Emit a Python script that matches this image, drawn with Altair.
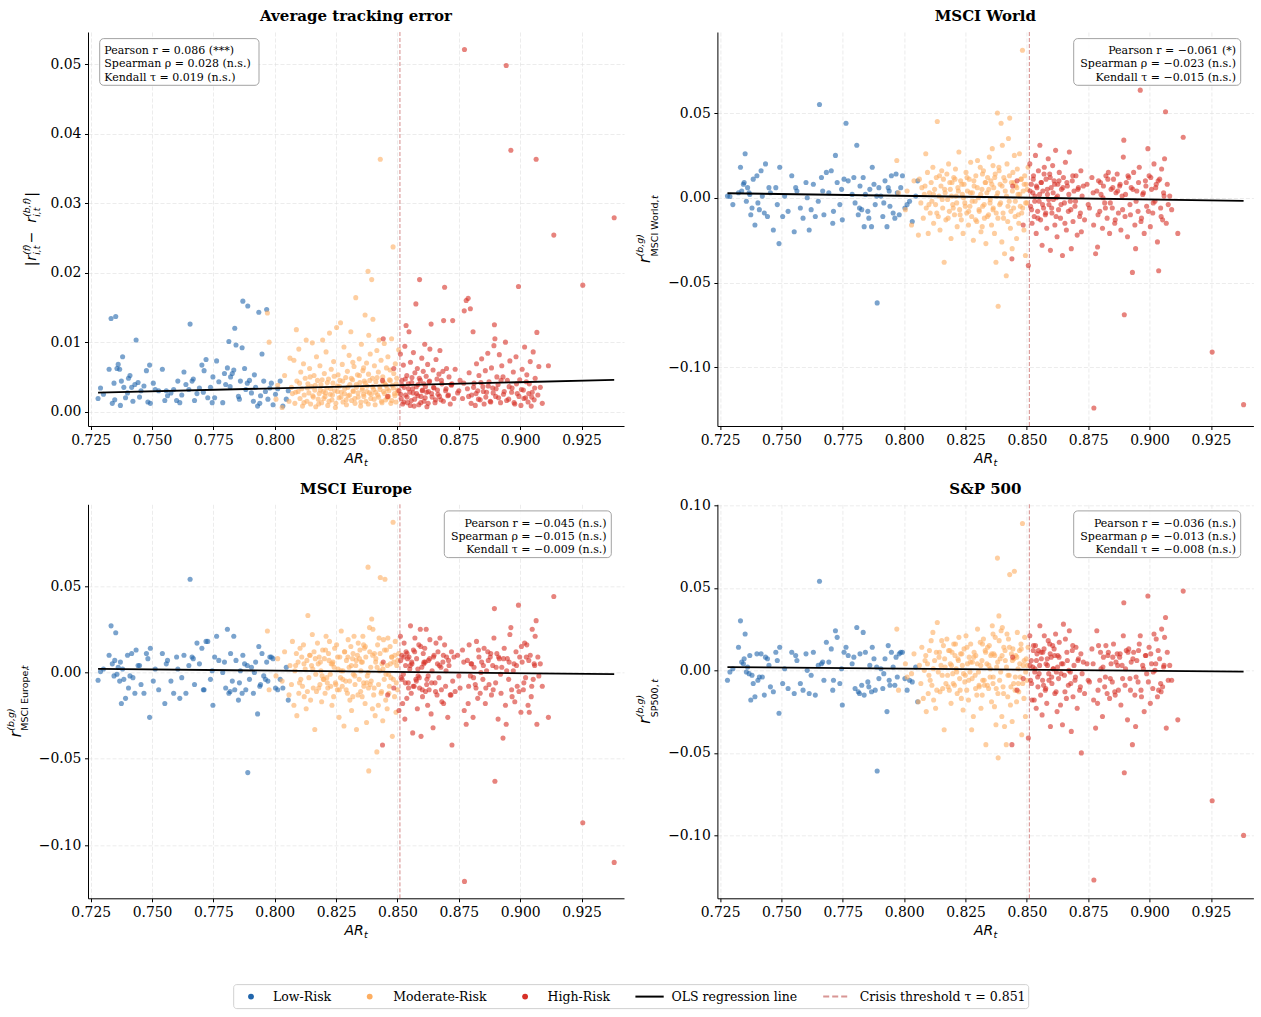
import altair as alt
import pandas as pd

# ---------------- data ----------------
CRISIS = 0.851

low_ar = [0.7280, 0.7290, 0.7325, 0.7333, 0.7352, 0.7338, 0.7348, 0.7357, 0.7362, 0.7368,
          0.7375, 0.7380, 0.7385, 0.7392, 0.7400, 0.7410, 0.7417, 0.7422, 0.7430, 0.7435,
          0.7443, 0.7455, 0.7467, 0.7477, 0.7483, 0.7490, 0.7493, 0.7513, 0.7527, 0.7542,
          0.7552, 0.7563, 0.7577, 0.7588, 0.7600, 0.7605, 0.7613, 0.7630, 0.7638, 0.7650,
          0.7655, 0.7663, 0.7673, 0.7683, 0.7693, 0.7703, 0.7712, 0.7720, 0.7727, 0.7738,
          0.7748, 0.7755, 0.7763, 0.7772, 0.7788, 0.7800, 0.7807, 0.7813, 0.7820, 0.7827,
          0.7833, 0.7837, 0.7842, 0.7852, 0.7860, 0.7867, 0.7870, 0.7877, 0.7882, 0.7890,
          0.7897, 0.7905, 0.7913, 0.7922, 0.7930, 0.7935, 0.7942, 0.7948, 0.7955, 0.7967,
          0.7972, 0.7980, 0.7993, 0.8003, 0.8022, 0.8033, 0.8047, 0.8055,
          0.7302, 0.7345, 0.7371, 0.7404, 0.7449, 0.7505, 0.7558, 0.7621, 0.7668, 0.7709,
          0.7745, 0.7795, 0.7818, 0.7856, 0.7888, 0.7917, 0.7939, 0.7962, 0.7986, 0.8012]
low_te = [0.0019, 0.0034, 0.0061, 0.0134, 0.0137, 0.0012, 0.0017, 0.0062, 0.0068, 0.0061,
          0.0044, 0.0079, 0.0035, 0.0020, 0.0027, 0.0052, 0.0035, 0.0015, 0.0039, 0.0103,
          0.0042, 0.0030, 0.0037, 0.0059, 0.0014, 0.0067, 0.0012, 0.0032, 0.0030, 0.0061,
          0.0016, 0.0023, 0.0027, 0.0032, 0.0016, 0.0044, 0.0013, 0.0057, 0.0039, 0.0032,
          0.0126, 0.0044, 0.0016, 0.0026, 0.0034, 0.0067, 0.0059, 0.0075, 0.0020, 0.0035,
          0.0050, 0.0020, 0.0073, 0.0043, 0.0013, 0.0039, 0.0063, 0.0101, 0.0050, 0.0055,
          0.0060, 0.0120, 0.0096, 0.0022, 0.0044, 0.0092, 0.0159, 0.0062, 0.0032, 0.0152,
          0.0045, 0.0027, 0.0015, 0.0035, 0.0008, 0.0143, 0.0023, 0.0083, 0.0044, 0.0147,
          0.0018, 0.0034, 0.0010, 0.0025, 0.0044, 0.0008, 0.0018, 0.0030,
          0.0025, 0.0041, 0.0009, 0.0048, 0.0021, 0.0041, 0.0030, 0.0024, 0.0047, 0.0028,
          0.0013, 0.0055, 0.0036, 0.0018, 0.0041, 0.0053, 0.0012, 0.0029, 0.0041, 0.0033]
low_world = [0.001, 0.0008, 0.003, 0.018, 0.026, 0.004, 0.009, -0.002, 0.006, 0.003,
             -0.010, -0.006, 0.011, -0.016, 0.013, -0.007, 0.016, 0.001, -0.009, 0.020,
             -0.011, 0.003, -0.019, 0.006, -0.004, -0.027, 0.018, 0.001, -0.008, 0.013,
             -0.020, 0.004, -0.006, -0.012, 0.009, 0.000, -0.019, 0.008, -0.011, -0.002,
             0.055, 0.012, -0.010, 0.015, 0.003, 0.016, -0.008, 0.025, 0.009, -0.004,
             -0.013, 0.011, 0.044, 0.010, 0.002, -0.003, 0.031, -0.010, 0.007, -0.007,
             0.012, -0.017, 0.002, -0.008, 0.005, -0.017, 0.018, 0.008, -0.004, -0.062,
             0.006, 0.001, -0.011, 0.010, -0.017, 0.006, -0.005, 0.013, -0.009, 0.014,
             0.003, -0.010, 0.013, -0.006, -0.002, -0.014, 0.001, 0.010,
             -0.004, 0.008, 0.002, -0.003, 0.006, -0.011, 0.006, -0.007, 0.004, -0.015,
             0.005, 0.012, -0.006, -0.012, 0.001, -0.003, 0.004, -0.012, 0.006, -0.004]
low_europe = [-0.0045, 0.0005, 0.010, 0.027, 0.023, 0.005, 0.007, -0.001, 0.003, -0.005,
              -0.018, 0.002, -0.004, -0.015, 0.010, -0.002, 0.011, -0.003, -0.012, 0.013,
              0.004, -0.007, -0.012, 0.011, 0.008, -0.026, 0.014, 0.002, -0.010, 0.011,
              -0.018, 0.007, -0.005, -0.012, 0.009, 0.002, -0.015, 0.010, -0.012, 0.004,
              0.054, 0.009, -0.007, 0.017, 0.005, 0.014, -0.010, 0.018, 0.018, -0.004,
              -0.019, 0.009, 0.021, 0.007, 0.000, -0.009, 0.025, -0.012, 0.011, -0.005,
              0.021, -0.010, 0.007, -0.016, 0.001, -0.012, 0.010, 0.005, -0.010, -0.058,
              -0.004, 0.003, -0.012, 0.006, -0.024, 0.015, -0.007, 0.011, -0.002, 0.006,
              -0.005, 0.009, 0.008, -0.009, -0.004, -0.009, 0.003, -0.016,
              0.002, -0.002, 0.006, -0.009, 0.004, -0.005, 0.005, -0.003, 0.008, -0.010,
              0.001, 0.006, -0.011, -0.006, 0.004, 0.000, -0.008, -0.004, 0.009, -0.010]
low_sp = [-0.006, -0.001, 0.014, 0.030, 0.022, 0.005, 0.007, -0.001, 0.002, -0.002,
          -0.018, -0.003, -0.008, -0.016, 0.010, -0.004, 0.010, -0.004, -0.015, 0.008,
          0.007, -0.010, -0.013, 0.011, 0.006, -0.026, 0.014, 0.001, -0.011, 0.011,
          -0.014, 0.006, -0.008, -0.012, 0.010, 0.000, -0.014, 0.011, -0.015, 0.003,
          0.054, 0.004, -0.006, 0.017, 0.005, 0.013, -0.006, 0.024, 0.020, -0.008,
          -0.021, 0.011, 0.014, 0.009, 0.004, -0.011, 0.026, -0.013, 0.010, -0.009,
          0.023, -0.015, 0.011, -0.007, 0.003, -0.013, 0.014, 0.007, -0.012, -0.061,
          -0.005, 0.001, -0.011, 0.007, -0.025, 0.015, -0.009, 0.011, 0.002, 0.008,
          -0.004, 0.010, 0.011, -0.005, -0.006, -0.007, 0.002, -0.019,
          0.001, 0.004, 0.009, -0.006, 0.003, -0.008, 0.009, -0.003, 0.005, -0.012,
          0.001, 0.008, -0.014, -0.010, 0.002, -0.002, -0.006, -0.009, 0.011, -0.012]

mod_ar = [0.7970, 0.7977, 0.8005, 0.8012, 0.8030, 0.8040, 0.8058, 0.8062, 0.8068, 0.8072,
          0.8078, 0.8082, 0.8088, 0.8090, 0.8095, 0.8098, 0.8103, 0.8106, 0.8110, 0.8113,
          0.8117, 0.8120, 0.8124, 0.8128, 0.8131, 0.8135, 0.8139, 0.8142, 0.8146, 0.8150,
          0.8153, 0.8157, 0.8160, 0.8163, 0.8167, 0.8170, 0.8174, 0.8177, 0.8181, 0.8184,
          0.8188, 0.8191, 0.8195, 0.8198, 0.8202, 0.8205, 0.8209, 0.8212, 0.8216, 0.8219,
          0.8223, 0.8226, 0.8230, 0.8233, 0.8237, 0.8240, 0.8244, 0.8247, 0.8252, 0.8255,
          0.8258, 0.8262, 0.8265, 0.8268, 0.8271, 0.8275, 0.8278, 0.8282, 0.8285, 0.8289,
          0.8292, 0.8296, 0.8299, 0.8303, 0.8306, 0.8310, 0.8313, 0.8317, 0.8320, 0.8323,
          0.8327, 0.8330, 0.8333, 0.8337, 0.8340, 0.8344, 0.8347, 0.8350, 0.8353, 0.8356,
          0.8359, 0.8362, 0.8365, 0.8368, 0.8371, 0.8374, 0.8377, 0.8380, 0.8382, 0.8383,
          0.8386, 0.8389, 0.8391, 0.8395, 0.8398, 0.8400, 0.8403, 0.8406, 0.8409, 0.8412,
          0.8416, 0.8419, 0.8422, 0.8425, 0.8428, 0.8430, 0.8433, 0.8437, 0.8440, 0.8443,
          0.8446, 0.8449, 0.8452, 0.8455, 0.8458, 0.8461, 0.8464, 0.8467, 0.8470, 0.8473,
          0.8476, 0.8479, 0.8482, 0.8485, 0.8488, 0.8491, 0.8494, 0.8497, 0.8500, 0.8505,
          0.8085, 0.8101, 0.8119, 0.8133, 0.8144, 0.8155, 0.8165, 0.8179, 0.8186, 0.8193,
          0.8200, 0.8207, 0.8214, 0.8221, 0.8228, 0.8235, 0.8242, 0.8249, 0.8256, 0.8263,
          0.8270, 0.8277, 0.8284, 0.8291, 0.8298, 0.8305, 0.8312, 0.8319, 0.8326, 0.8332,
          0.8339, 0.8345, 0.8351, 0.8357, 0.8363, 0.8369, 0.8375, 0.8381, 0.8387, 0.8393,
          0.8399, 0.8405, 0.8411, 0.8417, 0.8423, 0.8429, 0.8435, 0.8441, 0.8447, 0.8453,
          0.8459, 0.8465, 0.8471, 0.8477, 0.8483, 0.8489, 0.8495, 0.8501, 0.8362, 0.8318]
mod_te = [0.0142, 0.0100, 0.0018, 0.0038, 0.0006, 0.0052, 0.0015, 0.0077, 0.0035, 0.0026,
          0.0074, 0.0012, 0.0118, 0.0044, 0.0029, 0.0090, 0.0019, 0.0057, 0.0033, 0.0008,
          0.0069, 0.0024, 0.0048, 0.0103, 0.0015, 0.0040, 0.0027, 0.0062, 0.0011, 0.0036,
          0.0099, 0.0021, 0.0052, 0.0031, 0.0007, 0.0079, 0.0045, 0.0018, 0.0026, 0.0066,
          0.0039, 0.0013, 0.0103, 0.0029, 0.0055, 0.0022, 0.0086, 0.0034, 0.0009, 0.0047,
          0.0113, 0.0025, 0.0061, 0.0017, 0.0041, 0.0072, 0.0030, 0.0006, 0.0121, 0.0037,
          0.0053, 0.0020, 0.0045, 0.0128, 0.0028, 0.0068, 0.0014, 0.0093, 0.0033, 0.0049,
          0.0010, 0.0058, 0.0023, 0.0081, 0.0039, 0.0115, 0.0016, 0.0046, 0.0029, 0.0065,
          0.0012, 0.0164, 0.0035, 0.0053, 0.0021, 0.0076, 0.0042, 0.0008, 0.0097, 0.0031,
          0.0059, 0.0025, 0.0044, 0.0139, 0.0015, 0.0070, 0.0037, 0.0202, 0.0054, 0.0110,
          0.0027, 0.0083, 0.0019, 0.0190, 0.0048, 0.0133, 0.0032, 0.0066, 0.0010, 0.0043,
          0.0088, 0.0024, 0.0057, 0.0103, 0.0036, 0.0363, 0.0074, 0.0013, 0.0050, 0.0029,
          0.0098, 0.0040, 0.0017, 0.0063, 0.0033, 0.0079, 0.0022, 0.0046, 0.0060, 0.0012,
          0.0105, 0.0038, 0.0237, 0.0055, 0.0026, 0.0069, 0.0014, 0.0048, 0.0031, 0.0089,
          0.0028, 0.0041, 0.0013, 0.0034, 0.0050, 0.0023, 0.0038, 0.0011, 0.0031, 0.0046,
          0.0019, 0.0027, 0.0042, 0.0015, 0.0033, 0.0024, 0.0051, 0.0012, 0.0029, 0.0037,
          0.0021, 0.0044, 0.0026, 0.0017, 0.0035, 0.0024, 0.0048, 0.0030, 0.0019, 0.0039,
          0.0027, 0.0052, 0.0014, 0.0034, 0.0022, 0.0041, 0.0029, 0.0011, 0.0045, 0.0025,
          0.0036, 0.0018, 0.0028, 0.0049, 0.0021, 0.0032, 0.0015, 0.0043, 0.0026, 0.0038,
          0.0020, 0.0030, 0.0045, 0.0016, 0.0034, 0.0023, 0.0040, 0.0027, 0.0063, 0.0071]
mod_world = [0.022, 0.003, -0.007, 0.004, -0.016, 0.010, -0.022, 0.011, -0.003, 0.006,
             -0.012, 0.002, 0.026, -0.006, 0.015, -0.021, 0.003, -0.009, 0.009, -0.002,
             0.018, -0.015, 0.005, -0.004, 0.012, 0.045, -0.011, 0.001, -0.019, 0.007,
             0.016, -0.006, 0.011, -0.038, 0.003, -0.013, 0.014, -0.001, 0.020, -0.008,
             0.005, -0.024, 0.009, -0.004, 0.012, -0.010, 0.017, 0.001, -0.017, 0.006,
             0.027, -0.007, 0.010, -0.013, 0.002, -0.021, 0.008, -0.003, 0.015, -0.009,
             0.004, -0.016, 0.011, -0.005, 0.021, -0.011, 0.003, -0.025, 0.007, -0.002,
             0.013, -0.014, 0.022, 0.000, -0.008, 0.018, -0.020, 0.005, -0.005, 0.016,
             -0.012, 0.009, -0.027, 0.003, 0.012, -0.010, 0.024, -0.003, 0.010, -0.016,
             0.029, -0.007, 0.006, -0.021, 0.014, -0.038, 0.001, 0.050, -0.012, -0.064,
             0.018, -0.004, 0.008, 0.044, -0.026, 0.031, -0.009, 0.012, -0.033, 0.004,
             -0.046, 0.020, -0.014, 0.035, -0.002, 0.047, -0.018, 0.009, -0.030, 0.015,
             -0.006, 0.025, -0.011, 0.007, -0.024, 0.017, 0.002, -0.015, 0.026, -0.005,
             0.011, -0.009, 0.087, 0.004, -0.019, 0.013, -0.034, 0.008, -0.003, 0.018,
             0.007, -0.004, 0.002, -0.009, 0.013, -0.001, 0.005, -0.012, 0.009, 0.001,
             -0.006, 0.011, -0.003, 0.004, -0.010, 0.008, 0.000, -0.005, 0.012, -0.008,
             0.003, -0.002, 0.010, -0.013, 0.006, -0.007, 0.002, 0.014, -0.004, 0.009,
             -0.011, 0.005, -0.001, 0.008, -0.006, 0.012, -0.009, 0.003, 0.016, -0.003,
             0.007, -0.012, 0.010, 0.001, -0.005, 0.013, -0.008, 0.004, 0.009, -0.002,
             0.006, -0.010, 0.002, 0.011, -0.006, 0.008, -0.003, 0.005, 0.019, -0.017]
mod_europe = [0.024, -0.010, -0.002, 0.008, -0.005, 0.012, -0.013, 0.004, -0.007, 0.018,
              -0.019, 0.001, 0.011, -0.025, 0.006, -0.012, 0.014, -0.004, 0.009, -0.008,
              0.016, -0.014, 0.002, -0.021, 0.007, 0.033, -0.003, 0.010, -0.016, 0.004,
              0.022, -0.009, 0.012, -0.033, -0.001, -0.011, 0.017, 0.005, 0.009, -0.007,
              0.001, -0.017, 0.013, -0.004, 0.008, -0.012, 0.021, -0.003, -0.009, 0.011,
              0.018, -0.001, 0.005, -0.019, 0.006, -0.014, 0.014, -0.006, 0.016, -0.010,
              0.002, -0.026, 0.009, -0.003, 0.024, -0.008, 0.001, -0.031, 0.012, -0.005,
              0.007, -0.012, 0.019, 0.003, -0.016, 0.015, -0.022, 0.008, -0.001, 0.021,
              -0.007, 0.004, -0.033, 0.010, 0.017, -0.004, 0.013, -0.011, 0.006, -0.014,
              0.021, -0.006, 0.014, -0.018, 0.009, -0.029, -0.002, 0.061, -0.009, -0.057,
              0.026, -0.007, 0.003, 0.031, -0.021, 0.025, -0.013, 0.011, -0.025, 0.008,
              -0.046, 0.016, -0.019, 0.020, 0.001, 0.055, -0.012, 0.005, -0.028, 0.019,
              -0.004, 0.054, -0.016, 0.013, -0.021, 0.020, -0.001, -0.008, 0.015, -0.003,
              0.009, -0.037, 0.087, 0.006, -0.014, 0.018, -0.023, 0.004, -0.010, 0.011,
              0.004, -0.006, 0.005, -0.011, 0.010, 0.002, 0.008, -0.009, 0.006, -0.002,
              -0.004, 0.013, -0.006, 0.007, -0.008, 0.005, 0.003, -0.007, 0.009, -0.010,
              0.001, -0.004, 0.012, -0.010, 0.009, -0.005, 0.004, 0.011, -0.002, 0.007,
              -0.013, 0.008, 0.001, 0.006, -0.008, 0.015, -0.006, 0.000, 0.012, -0.005,
              0.010, -0.009, 0.006, 0.003, -0.007, 0.011, -0.011, 0.002, 0.013, -0.001,
              0.004, -0.012, 0.005, 0.009, -0.004, 0.010, -0.006, 0.007, 0.016, -0.014]
mod_sp = [0.025, -0.012, 0.004, -0.004, -0.002, 0.010, -0.019, 0.003, -0.008, 0.014,
          -0.017, 0.000, 0.009, -0.025, 0.004, -0.014, 0.012, -0.006, 0.018, -0.009,
          0.023, -0.018, 0.006, -0.023, 0.011, 0.029, -0.001, 0.008, -0.013, 0.003,
          0.018, -0.011, 0.015, -0.036, 0.002, -0.008, 0.019, -0.003, 0.012, -0.012,
          0.004, -0.020, 0.011, -0.002, 0.016, -0.009, 0.016, 0.001, -0.014, 0.007,
          0.020, -0.005, 0.010, -0.017, 0.003, -0.024, 0.013, -0.007, 0.021, -0.012,
          0.004, -0.018, 0.008, -0.001, 0.016, -0.036, 0.005, -0.028, 0.011, -0.003,
          0.009, -0.015, 0.025, -0.001, -0.010, 0.017, -0.023, 0.006, -0.006, 0.019,
          -0.009, 0.012, -0.045, 0.004, 0.014, -0.011, 0.015, -0.004, 0.009, -0.019,
          0.027, -0.008, 0.010, -0.022, 0.020, -0.033, 0.002, 0.068, -0.014, -0.053,
          0.033, -0.006, 0.007, 0.024, -0.028, 0.026, -0.010, 0.014, -0.034, 0.006,
          -0.045, 0.022, -0.016, 0.019, -0.003, 0.058, -0.021, 0.010, -0.031, 0.013,
          -0.008, 0.060, -0.012, 0.009, -0.019, 0.023, 0.001, -0.013, 0.012, -0.004,
          0.016, -0.039, 0.089, 0.003, -0.017, 0.020, -0.028, 0.007, -0.006, 0.014,
          0.006, -0.003, 0.001, -0.012, 0.011, -0.003, 0.007, -0.010, 0.012, 0.003,
          -0.008, 0.009, -0.001, 0.006, -0.012, 0.010, -0.002, -0.003, 0.014, -0.006,
          0.005, -0.005, 0.008, -0.011, 0.004, -0.009, 0.003, 0.016, -0.006, 0.011,
          -0.009, 0.003, 0.001, 0.010, -0.004, 0.009, -0.011, 0.005, 0.018, -0.001,
          0.009, -0.014, 0.012, 0.002, -0.003, 0.014, -0.010, 0.006, 0.007, -0.004,
          0.008, -0.008, 0.004, 0.013, -0.008, 0.006, -0.001, 0.003, 0.022, -0.015]

high_ar = [0.8439, 0.8442, 0.8460, 0.8485, 0.8506, 0.8512, 0.8515, 0.8518, 0.8521, 0.8524,
           0.8527, 0.8530, 0.8533, 0.8535, 0.8538, 0.8541, 0.8544, 0.8547, 0.8550, 0.8553,
           0.8556, 0.8559, 0.8562, 0.8565, 0.8568, 0.8571, 0.8575, 0.8578, 0.8581, 0.8584,
           0.8587, 0.8590, 0.8593, 0.8596, 0.8599, 0.8602, 0.8605, 0.8608, 0.8611, 0.8614,
           0.8617, 0.8620, 0.8623, 0.8626, 0.8629, 0.8632, 0.8637, 0.8641, 0.8645, 0.8649,
           0.8653, 0.8657, 0.8661, 0.8665, 0.8669, 0.8673, 0.8677, 0.8681, 0.8685, 0.8688,
           0.8692, 0.8696, 0.8700, 0.8705, 0.8710, 0.8715, 0.8720, 0.8722, 0.8725, 0.8735,
           0.8745, 0.8755, 0.8765, 0.8772, 0.8773, 0.8780, 0.8785, 0.8788, 0.8792, 0.8797,
           0.8802, 0.8808, 0.8812, 0.8817, 0.8822, 0.8827, 0.8832, 0.8837, 0.8843, 0.8848,
           0.8853, 0.8858, 0.8863, 0.8868, 0.8873, 0.8878, 0.8883, 0.8888, 0.8893, 0.8895,
           0.8897, 0.8900, 0.8905, 0.8910, 0.8915, 0.8920, 0.8925, 0.8930, 0.8935, 0.8940,
           0.8943, 0.8948, 0.8953, 0.8958, 0.8962, 0.8967, 0.8972, 0.8978, 0.8983, 0.8988,
           0.8993, 0.8998, 0.9003, 0.9008, 0.9013, 0.9018, 0.9022, 0.9027, 0.9032, 0.9037,
           0.9041, 0.9045, 0.9049, 0.9053, 0.9057, 0.9061, 0.9065, 0.9068, 0.9072, 0.9076,
           0.9082, 0.9090, 0.9115, 0.9137, 0.9255, 0.9383,
           0.8513, 0.8519, 0.8526, 0.8532, 0.8539, 0.8545, 0.8552, 0.8558, 0.8564, 0.8570,
           0.8577, 0.8583, 0.8589, 0.8595, 0.8601, 0.8607, 0.8613, 0.8619, 0.8625, 0.8631,
           0.8639, 0.8647, 0.8655, 0.8663, 0.8671, 0.8679, 0.8687, 0.8698, 0.8708, 0.8718,
           0.8730, 0.8750, 0.8770, 0.8790, 0.8800, 0.8810, 0.8820, 0.8830, 0.8840, 0.8850,
           0.8860, 0.8870, 0.8880, 0.8890, 0.8902, 0.8912, 0.8922, 0.8932, 0.8945, 0.8955,
           0.8965, 0.8975, 0.8985, 0.8995, 0.9005, 0.9015, 0.9025, 0.9035, 0.9047, 0.9059]
high_te = [0.0045, 0.0105, 0.0022, 0.0062, 0.0030, 0.0083, 0.0019, 0.0045, 0.0011, 0.0067,
           0.0035, 0.0094, 0.0024, 0.0124, 0.0052, 0.0013, 0.0040, 0.0115, 0.0028, 0.0071,
           0.0016, 0.0049, 0.0033, 0.0085, 0.0008, 0.0056, 0.0155, 0.0026, 0.0062, 0.0039,
           0.0010, 0.0190, 0.0045, 0.0022, 0.0077, 0.0031, 0.0058, 0.0015, 0.0097, 0.0036,
           0.0051, 0.0007, 0.0068, 0.0029, 0.0043, 0.0090, 0.0126, 0.0021, 0.0060, 0.0034,
           0.0013, 0.0075, 0.0047, 0.0025, 0.0054, 0.0088, 0.0017, 0.0040, 0.0058, 0.0131,
           0.0179, 0.0030, 0.0062, 0.0023, 0.0050, 0.0011, 0.0038, 0.0040, 0.0131, 0.0061,
           0.0027, 0.0045, 0.0019, 0.0145, 0.0521, 0.0160, 0.0033, 0.0163, 0.0056, 0.0148,
           0.0024, 0.0115, 0.0041, 0.0009, 0.0069, 0.0030, 0.0052, 0.0017, 0.0076, 0.0036,
           0.0011, 0.0059, 0.0028, 0.0084, 0.0043, 0.0015, 0.0063, 0.0034, 0.0095, 0.0125,
           0.0105, 0.0022, 0.0050, 0.0039, 0.0082, 0.0013, 0.0066, 0.0050, 0.0029, 0.0100,
           0.0498, 0.0045, 0.0018, 0.0073, 0.0376, 0.0034, 0.0057, 0.0011, 0.0079, 0.0026,
           0.0180, 0.0046, 0.0009, 0.0061, 0.0031, 0.0093, 0.0020, 0.0053, 0.0014, 0.0040,
           0.0072, 0.0008, 0.0028, 0.0086, 0.0017, 0.0048, 0.0363, 0.0114, 0.0024, 0.0065,
           0.0035, 0.0012, 0.0066, 0.0254, 0.0182, 0.0279,
           0.0025, 0.0038, 0.0014, 0.0047, 0.0021, 0.0033, 0.0009, 0.0042, 0.0027, 0.0018,
           0.0036, 0.0023, 0.0048, 0.0013, 0.0030, 0.0040, 0.0020, 0.0028, 0.0012, 0.0044,
           0.0026, 0.0035, 0.0017, 0.0031, 0.0022, 0.0045, 0.0015, 0.0033, 0.0024, 0.0039,
           0.0019, 0.0030, 0.0041, 0.0022, 0.0012, 0.0035, 0.0026, 0.0018, 0.0042, 0.0029,
           0.0021, 0.0037, 0.0014, 0.0027, 0.0033, 0.0020, 0.0045, 0.0025, 0.0016, 0.0036,
           0.0028, 0.0013, 0.0040, 0.0022, 0.0032, 0.0019, 0.0043, 0.0026, 0.0021, 0.0034]
high_world = [-0.036, 0.007, 0.010, -0.016, -0.040, 0.020, -0.005, 0.008, -0.015, 0.003,
              0.013, -0.011, 0.001, 0.025, -0.021, 0.006, -0.008, 0.016, -0.002, 0.031,
              -0.013, 0.009, -0.028, 0.004, -0.006, 0.018, -0.010, 0.011, -0.018, 0.002,
              0.023, -0.004, 0.014, -0.031, 0.006, -0.009, 0.019, -0.001, 0.010, -0.016,
              0.028, 0.000, -0.023, 0.008, -0.007, 0.015, -0.012, 0.005, -0.034, 0.012,
              -0.003, 0.021, -0.019, 0.007, -0.008, 0.027, -0.002, -0.030, 0.010, -0.014,
              0.004, -0.005, 0.013, -0.022, 0.006, -0.011, 0.016, -0.020, 0.001, -0.013,
              0.008, -0.006, 0.012, -0.016, -0.124, -0.033, 0.004, -0.029, 0.010, -0.008,
              0.002, -0.018, 0.007, -0.003, 0.013, -0.012, 0.015, -0.021, 0.005, -0.006,
              0.011, -0.015, 0.003, 0.014, -0.009, 0.007, -0.019, 0.001, 0.024, 0.034,
              -0.069, -0.011, 0.009, -0.023, 0.012, -0.004, 0.006, -0.044, 0.015, -0.016,
              -0.030, 0.004, -0.008, 0.018, 0.0635, -0.012, 0.002, -0.021, 0.010, -0.005,
              0.029, 0.013, -0.017, 0.005, -0.009, 0.020, -0.002, 0.008, -0.026, -0.043,
              0.011, -0.006, 0.017, -0.013, 0.003, 0.023, 0.0508, -0.015, 0.008, -0.004,
              0.001, -0.007, -0.021, 0.0357, -0.091, -0.122,
              0.004, -0.007, 0.011, -0.002, 0.007, -0.012, 0.002, 0.009, -0.004, 0.014,
              -0.009, 0.005, -0.001, 0.012, -0.006, 0.003, 0.008, -0.011, 0.001, 0.010,
              -0.004, 0.006, -0.015, 0.009, 0.002, -0.007, 0.013, -0.002, 0.005, -0.009,
              0.007, -0.004, 0.003, -0.010, 0.009, 0.000, -0.006, 0.011, -0.003, 0.006,
              -0.013, 0.004, 0.008, -0.007, 0.002, 0.013, -0.010, 0.005, -0.002, 0.009,
              -0.014, 0.003, 0.007, -0.008, 0.012, -0.003, 0.006, 0.010, -0.011, 0.001]
high_europe = [-0.042, 0.006, -0.013, -0.009, -0.022, 0.021, -0.003, 0.010, -0.018, -0.001,
               0.017, -0.027, 0.004, 0.012, -0.015, 0.008, -0.006, 0.009, 0.002, 0.027,
               -0.012, 0.005, -0.035, 0.013, -0.008, 0.020, -0.004, 0.008, -0.021, -0.002,
               0.016, -0.009, 0.025, -0.037, 0.003, -0.014, 0.011, 0.006, 0.014, -0.011,
               0.025, -0.004, -0.019, 0.007, -0.010, 0.019, -0.024, 0.001, -0.032, 0.010,
               -0.006, 0.017, -0.013, 0.012, -0.003, 0.020, 0.003, -0.017, 0.006, -0.018,
               0.016, -0.008, 0.009, -0.026, 0.004, -0.013, 0.012, -0.042, -0.005, -0.011,
               0.010, -0.009, 0.013, -0.022, -0.121, -0.030, 0.007, -0.018, 0.016, -0.002,
               0.005, -0.026, 0.003, -0.007, 0.018, -0.015, 0.009, -0.012, 0.006, -0.004,
               0.014, -0.018, 0.001, 0.012, -0.007, 0.009, -0.013, 0.004, 0.020, 0.037,
               -0.063, -0.006, 0.011, -0.027, 0.008, -0.001, 0.003, -0.038, 0.014, -0.019,
               -0.030, 0.008, -0.004, 0.022, 0.026, -0.014, 0.001, -0.017, 0.012, -0.008,
               0.039, 0.009, -0.023, 0.006, -0.010, 0.017, -0.003, 0.016, -0.019, -0.023,
               0.010, -0.014, 0.025, -0.004, 0.005, 0.021, 0.030, -0.030, 0.009, -0.002,
               0.005, -0.008, -0.026, 0.044, -0.087, -0.110,
               0.007, -0.004, 0.009, -0.006, 0.011, -0.009, 0.004, 0.006, -0.008, 0.012,
               -0.005, 0.002, -0.003, 0.015, -0.010, 0.005, 0.006, -0.007, -0.002, 0.008,
               -0.006, 0.009, -0.011, 0.005, 0.004, -0.010, 0.010, 0.001, 0.007, -0.013,
               0.009, -0.002, 0.006, -0.008, 0.005, -0.003, -0.009, 0.013, 0.000, 0.004,
               -0.009, 0.007, 0.011, -0.010, 0.003, 0.009, -0.012, 0.008, 0.001, 0.006,
               -0.010, 0.005, 0.004, -0.011, 0.015, -0.006, 0.009, 0.007, -0.008, 0.004]
high_sp = [-0.045, 0.008, -0.012, -0.005, -0.041, 0.021, -0.006, 0.006, -0.018, 0.002,
           0.015, -0.018, 0.001, 0.015, -0.023, 0.010, -0.004, 0.012, -0.002, 0.027,
           -0.015, 0.007, -0.027, 0.011, -0.009, 0.021, -0.012, 0.004, -0.020, 0.003,
           0.018, -0.006, 0.016, -0.034, 0.008, -0.008, 0.015, 0.001, 0.013, -0.014,
           0.022, -0.001, -0.025, 0.009, -0.005, 0.017, -0.021, 0.004, -0.033, 0.028,
           -0.003, 0.019, -0.017, 0.006, -0.009, 0.024, -0.001, -0.037, 0.012, -0.016,
           0.003, -0.006, 0.014, -0.023, 0.007, -0.012, 0.010, -0.050, -0.002, -0.014,
           0.004, -0.007, 0.013, -0.018, -0.127, -0.035, 0.024, -0.020, 0.015, -0.006,
           0.001, -0.028, 0.008, -0.010, 0.015, -0.014, 0.011, -0.017, 0.004, -0.007,
           0.016, -0.013, 0.005, 0.010, -0.012, 0.008, -0.021, 0.003, 0.021, 0.041,
           -0.062, -0.009, 0.012, -0.030, 0.013, -0.005, 0.005, -0.045, 0.011, -0.015,
           -0.034, 0.006, -0.007, 0.016, 0.021, -0.016, 0.003, -0.025, 0.009, -0.002,
           0.045, 0.014, -0.020, 0.004, -0.011, 0.022, 0.000, 0.019, -0.016, -0.012,
           0.007, -0.008, 0.025, -0.010, 0.002, 0.020, 0.032, -0.035, 0.011, -0.006,
           0.003, -0.006, -0.030, 0.048, -0.079, -0.100,
           0.003, -0.008, 0.012, -0.001, 0.006, -0.010, 0.003, 0.011, -0.006, 0.013,
           -0.011, 0.007, -0.002, 0.010, -0.004, 0.001, 0.009, -0.013, 0.002, 0.008,
           -0.002, 0.004, -0.013, 0.011, 0.000, -0.008, 0.015, -0.004, 0.006, -0.010,
           0.005, -0.006, 0.004, -0.012, 0.011, 0.002, -0.004, 0.009, -0.005, 0.008,
           -0.015, 0.003, 0.010, -0.005, 0.001, 0.011, -0.012, 0.007, -0.004, 0.012,
           -0.012, 0.001, 0.009, -0.007, 0.010, -0.001, 0.004, 0.012, -0.013, 0.003]

# OLS regression line end points (value at min / max AR)
ols_x = [0.7280, 0.9383]
ols_te = [0.00274, 0.00457]
ols_world = [0.0027, -0.0018]
ols_europe = [0.0021, -0.0010]
ols_sp = [0.0020, -0.0008]

risk_labels = ["Low-Risk", "Moderate-Risk", "High-Risk"]
risk_colors = ["#2166ac", "#fdae61", "#d73027"]

x_ticks = [0.725, 0.75, 0.775, 0.8, 0.825, 0.85, 0.875, 0.9, 0.925]

stats_te = ["Pearson r = 0.086 (***)", "Spearman ρ = 0.028 (n.s.)", "Kendall τ = 0.019 (n.s.)"]
stats_world = ["Pearson r = −0.061 (*)", "Spearman ρ = −0.023 (n.s.)", "Kendall τ = −0.015 (n.s.)"]
stats_europe = ["Pearson r = −0.045 (n.s.)", "Spearman ρ = −0.015 (n.s.)", "Kendall τ = −0.009 (n.s.)"]
stats_sp = ["Pearson r = −0.036 (n.s.)", "Spearman ρ = −0.013 (n.s.)", "Kendall τ = −0.008 (n.s.)"]

# ---------------- layout / style ----------------
SERIF = "DejaVu Serif"
SANS = "DejaVu Sans"
W, H = 536, 394
X_DOMAIN = [0.7239, 0.9423]
THRESH_COLOR = "#c0504d"

dummy = pd.DataFrame({"d": [0]})


def txt(text, x, y, size, align="left", baseline="alphabetic", font=SERIF,
        weight="normal", style="normal", angle=0):
    kw = dict(text=text, align=align, baseline=baseline, font=font, fontSize=size,
              fontWeight=weight, fontStyle=style, color="#000000")
    if angle:
        kw["angle"] = angle
    return alt.Chart(dummy).mark_text(**kw).encode(x=alt.value(x), y=alt.value(y))


def box(x1, x2, y1, y2, stroke="#999999", radius=4):
    return alt.Chart(dummy).mark_rect(
        cornerRadius=radius, fill="white", fillOpacity=0.85, stroke=stroke, strokeWidth=0.9
    ).encode(x=alt.value(x1), x2=alt.value(x2), y=alt.value(y1), y2=alt.value(y2))


def rotated_label(segments, x_base, y_center, main=14, small=9.2, sup_dx=-6.6, sub_dx=3.6):
    """segments: ('m', text, italic, width) or ('s', sup, [(sub_text, italic, width)...], width)"""
    total = sum(s[-1] for s in segments)
    y = y_center + total / 2
    layers = []
    for seg in segments:
        if seg[0] == "m":
            _, t, it, w = seg
            layers.append(txt(t, x_base, y, main, font=SANS,
                              style="italic" if it else "normal", angle=270))
        else:
            _, sup, subs, w = seg
            layers.append(txt(sup, x_base + sup_dx, y, small, font=SANS, style="italic", angle=270))
            yy = y
            for st, it, sw in subs:
                layers.append(txt(st, x_base + sub_dx, yy, small, font=SANS,
                                  style="italic" if it else "normal", angle=270))
                yy -= sw
        y -= seg[-1]
    return layers


def build_df(key_low, key_mod, key_high):
    frames = []
    for rank, (lab, ar, vals) in enumerate([
        ("Low-Risk", low_ar, key_low), ("Moderate-Risk", mod_ar, key_mod),
        ("High-Risk", high_ar, key_high)]):
        frames.append(pd.DataFrame({"ar": ar, "val": vals, "risk": lab, "rank": rank}))
    return pd.concat(frames, ignore_index=True)


def panel(df, ydomain, yticks, title, ols_y, stats, left_stats, label_layers, anchor=False):
    xsc = alt.Scale(domain=X_DOMAIN, nice=False, zero=False)
    ysc = alt.Scale(domain=ydomain, nice=False, zero=False)
    xaxis = alt.Axis(values=x_ticks, format=".3f", title=None, labelFlush=False,
                     labelOverlap=False, grid=True)
    yaxis = alt.Axis(values=yticks, title=None, labelFlush=False, labelOverlap=False, grid=True,
                     labelExpr="replace(format(datum.value, '.2f'), '-', '\u2212')")
    pts = alt.Chart(df).mark_circle(size=26, opacity=0.6).encode(
        x=alt.X("ar:Q", scale=xsc, axis=xaxis),
        y=alt.Y("val:Q", scale=ysc, axis=yaxis),
        color=alt.Color("risk:N", scale=alt.Scale(domain=risk_labels, range=risk_colors), legend=None),
        order=alt.Order("rank:Q"),
    )
    thr = alt.Chart(pd.DataFrame({"ar": [CRISIS]})).mark_rule(
        color=THRESH_COLOR, strokeDash=[4, 2], strokeWidth=0.9, opacity=0.75
    ).encode(x="ar:Q")
    ols = alt.Chart(pd.DataFrame({"ar": ols_x, "val": ols_y})).mark_line(
        color="black", strokeWidth=1.8
    ).encode(x="ar:Q", y="val:Q")

    layers = [pts, thr, ols]
    if left_stats:
        layers.append(box(11.7, 171, 6.6, 53.3))
        for i, s in enumerate(stats):
            layers.append(txt(s, 16.3, 19.3 + 13.1 * i, 11, baseline="middle"))
    else:
        layers.append(box(356.3, 523.3, 6.6, 53.3))
        for i, s in enumerate(stats):
            layers.append(txt(s, 518.6, 19.3 + 13.1 * i, 11, align="right", baseline="middle"))
    layers.append(txt(title, W / 2, -15.7, 15, align="center", baseline="middle", weight="bold"))
    # x axis title AR_t
    layers.append(txt("AR", 256.5, 431.0, 14, font=SANS, style="italic"))
    layers.append(txt("t", 276.0, 434.0, 9.5, font=SANS, style="italic"))
    layers += label_layers
    if anchor:
        layers.append(alt.Chart(dummy).mark_rect(opacity=0).encode(
            x=alt.value(-87.3), x2=alt.value(-87.3), y=alt.value(-31.7), y2=alt.value(-31.7)))
    return alt.layer(*layers).properties(width=W, height=H)


te_label = rotated_label([
    ("m", "|", False, 5.4),
    ("m", "r", True, 6.0),
    ("s", "(f)", [("i,t", True, 10)], 11.5),
    ("m", " \u2212 ", False, 20.5),
    ("m", "r", True, 6.0),
    ("s", "(b,f)", [("i,t", True, 10)], 20.0),
    ("m", "|", False, 5.0),
], -51.7, H / 2)


def ret_label(name):
    sub_w = {"MSCI World,": 56.0, "MSCI Europe,": 60.0, "SP500,": 33.0}[name]
    return rotated_label([
        ("m", "r", True, 6.5),
        ("s", "(b,g)", [(name, False, sub_w + 1.5), ("t", True, 3.9)], sub_w + 5.4),
    ], -67.3, H / 2, main=15, small=9.5, sup_dx=-6.8, sub_dx=7.4)


p1 = panel(build_df(low_te, mod_te, high_te), [-0.00206, 0.05461],
           [0.0, 0.01, 0.02, 0.03, 0.04, 0.05], "Average tracking error", ols_te,
           stats_te, True, te_label, anchor=True)
p2 = panel(build_df(low_world, mod_world, high_world), [-0.1346, 0.0978],
           [-0.10, -0.05, 0.0, 0.05], "MSCI World", ols_world, stats_world, False,
           ret_label("MSCI World,"))
p3 = panel(build_df(low_europe, mod_europe, high_europe), [-0.1308, 0.0974],
           [-0.10, -0.05, 0.0, 0.05], "MSCI Europe", ols_europe, stats_europe, False,
           ret_label("MSCI Europe,"))
p4 = panel(build_df(low_sp, mod_sp, high_sp), [-0.1381, 0.1006],
           [-0.10, -0.05, 0.0, 0.05, 0.10], "S&P 500", ols_sp, stats_sp, False,
           ret_label("SP500,"))

# ---------------- legend (drawn in a cell of the grid; marks extend past its width) ----------------
LY = 20.0
leg_layers = [box(145.7, 940.7, 8.0, 32.0, stroke="#cccccc", radius=3)]
for lab, col, dx, tx in zip(risk_labels, risk_colors, [163.0, 281.7, 437.1], [185.0, 305.3, 459.6]):
    leg_layers.append(alt.Chart(dummy).mark_circle(size=34, opacity=1, color=col).encode(
        x=alt.value(dx), y=alt.value(LY)))
    leg_layers.append(txt(lab, tx, LY, 12.5, baseline="middle"))
leg_layers.append(alt.Chart(dummy).mark_rule(color="black", strokeWidth=2).encode(
    x=alt.value(547.4), x2=alt.value(575.7), y=alt.value(LY)))
leg_layers.append(txt("OLS regression line", 583.5, LY, 12.5, baseline="middle"))
leg_layers.append(alt.Chart(dummy).mark_rule(color=THRESH_COLOR, strokeWidth=2, opacity=0.6,
                                             strokeDash=[6, 3]).encode(
    x=alt.value(735.2), x2=alt.value(759.3), y=alt.value(LY)))
leg_layers.append(txt("Crisis threshold τ = 0.851", 771.7, LY, 12.5, baseline="middle"))
legend = alt.layer(*leg_layers).properties(width=W, height=40)

chart = alt.concat(
    p1, p2, p3, p4, legend, columns=2, bounds="flush",
    spacing={"row": 78.3, "column": 93.4},
).properties(
    padding=0, background="white"
).configure_view(stroke=None).configure_axis(
    domainColor="#000000", domainWidth=1, tickColor="#000000", tickSize=3.5, tickWidth=1,
    labelFont=SERIF, labelFontSize=13.9, labelColor="#000000", labelPadding=3.6,
    gridColor="#dddddd", gridDash=[4, 2], gridWidth=0.8, gridOpacity=0.7,
)

chart.save("out.html", embed_options={"renderer": "svg", "actions": False})
